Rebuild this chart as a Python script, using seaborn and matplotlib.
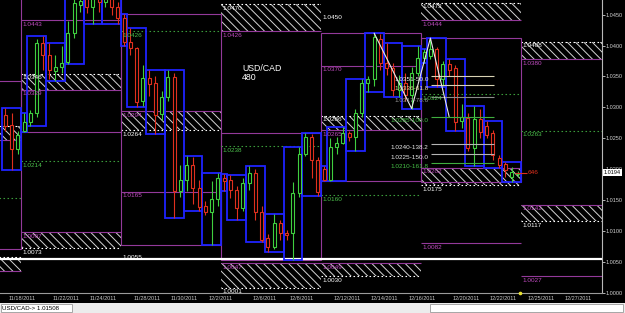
import numpy as np
import pandas as pd
import matplotlib
matplotlib.use("Agg")
import matplotlib.pyplot as plt
from matplotlib.patches import Rectangle
from matplotlib.transforms import blended_transform_factory
import seaborn as sns

# ---------------- data (USD/CAD, 8-hour bars) ----------------
bar_index = list(range(-3, 80))
opens = [1.0288, 1.0272, 1.0232,
         1.0262,
         1.0276, 1.0291, 1.0404, 1.0385, 1.0358, 1.0365, 1.0374, 1.0420, 1.0466,
         1.0490, 1.0462, 1.0480, 1.0470, 1.0478, 1.0462,
         1.0445,
         1.0406, 1.0396, 1.0310, 1.0347, 1.0340, 1.0289, 1.0316, 1.0349, 1.0165,
         1.0182, 1.0207, 1.0169, 1.0140, 1.0130, 1.0152,
         1.0185,
         1.0182, 1.0166, 1.0137, 1.0177, 1.0194, 1.0130, 1.0089, 1.0074, 1.0113,
         1.0097, 1.0097, 1.0161, 1.0224, 1.0252, 1.0215,
         1.0200,
         1.0183, 1.0236, 1.0243, 1.0259, 1.0252, 1.0290, 1.0339, 1.0345, 1.0410,
         1.0372, 1.0363, 1.0328, 1.0340, 1.0320, 1.0355,
         1.0380,
         1.0383, 1.0395, 1.0345, 1.0370, 1.0363, 1.0278, 1.0283, 1.0234, 1.0281,
         1.0270, 1.0258, 1.0218, 1.0208, 1.0188, 1.0192]
highs = [1.0299, 1.0290, 1.0262,
         1.0290,
         1.0295, 1.0410, 1.0415, 1.0404, 1.0385, 1.0400, 1.0440, 1.0478, 1.0490,
         1.0500, 1.0495, 1.0490, 1.0500, 1.0490, 1.0470,
         1.0451,
         1.0428, 1.0398, 1.0368, 1.0360, 1.0350, 1.0326, 1.0361, 1.0355, 1.0207,
         1.0221, 1.0219, 1.0183, 1.0148, 1.0180, 1.0193,
         1.0192,
         1.0190, 1.0172, 1.0185, 1.0205, 1.0200, 1.0140, 1.0095, 1.0128, 1.0118,
         1.0102, 1.0179, 1.0236, 1.0258, 1.0256, 1.0220,
         1.0205,
         1.0250, 1.0252, 1.0268, 1.0262, 1.0298, 1.0346, 1.0350, 1.0420, 1.0418,
         1.0404, 1.0372, 1.0352, 1.0355, 1.0365, 1.0400,
         1.0395,
         1.0412, 1.0398, 1.0375, 1.0378, 1.0368, 1.0305, 1.0290, 1.0302, 1.0298,
         1.0278, 1.0263, 1.0223, 1.0211, 1.0203, 1.0197]
lows = [1.0262, 1.0198, 1.0225,
        1.0260,
        1.0270, 1.0285, 1.0360, 1.0345, 1.0342, 1.0355, 1.0370, 1.0412, 1.0455,
        1.0452, 1.0435, 1.0455, 1.0462, 1.0450, 1.0435,
        1.0400,
        1.0385, 1.0300, 1.0302, 1.0318, 1.0256, 1.0280, 1.0311, 1.0121, 1.0155,
        1.0165, 1.0143, 1.0133, 1.0126, 1.0077, 1.0140,
        1.0165,
        1.0154, 1.0118, 1.0133, 1.0166, 1.0118, 1.0082, 1.0066, 1.0071, 1.0086,
        1.0085, 1.0053, 1.0155, 1.0221, 1.0186, 1.0157,
        1.0181,
        1.0180, 1.0225, 1.0240, 1.0245, 1.0230, 1.0285, 1.0325, 1.0335, 1.0360,
        1.0353, 1.0318, 1.0316, 1.0310, 1.0298, 1.0350,
        1.0372,
        1.0378, 1.0333, 1.0335, 1.0350, 1.0261, 1.0266, 1.0230, 1.0205, 1.0250,
        1.0250, 1.0215, 1.0202, 1.0188, 1.0179, 1.0188]
closes = [1.0270, 1.0232, 1.0255,
          1.0276,
          1.0291, 1.0404, 1.0385, 1.0360, 1.0365, 1.0372, 1.0420, 1.0468, 1.0472,
          1.0462, 1.0480, 1.0470, 1.0478, 1.0462, 1.0445,
          1.0405,
          1.0396, 1.0309, 1.0347, 1.0337, 1.0287, 1.0316, 1.0349, 1.0165, 1.0182,
          1.0207, 1.0169, 1.0139, 1.0131, 1.0152, 1.0185,
          1.0180,
          1.0166, 1.0137, 1.0177, 1.0194, 1.0130, 1.0086, 1.0074, 1.0113, 1.0097,
          1.0093, 1.0161, 1.0224, 1.0252, 1.0215, 1.0163,
          1.0183,
          1.0236, 1.0243, 1.0258, 1.0252, 1.0290, 1.0339, 1.0345, 1.0414, 1.0372,
          1.0363, 1.0328, 1.0340, 1.0320, 1.0355, 1.0380,
          1.0390,
          1.0395, 1.0345, 1.0370, 1.0360, 1.0276, 1.0285, 1.0234, 1.0281, 1.0260,
          1.0255, 1.0223, 1.0207, 1.0199, 1.0195, 1.0194]

# weekly range boxes (week -1 = 11/14, 0 = 11/21, ...)
box_week = [-1, 0, 1, 2, 3, 4]
box_high = [1.0342, 1.0500, 1.0451, 1.0258, 1.0420, 1.0412]
box_low = [1.0071, 1.0260, 1.0077, 1.0053, 1.0180, 1.0179]

# hatched zones
zone_week = [-1, -1, 0, 0, 1, 2, 2, 3, 3, 4, 4, 5, 5]
zone_top = [1.0270, 1.0058, 1.0354, 1.0098, 1.0294, 1.0467, 1.0048, 1.0286, 1.0048,
            1.0469, 1.0202, 1.0406, 1.0142]
zone_bottom = [1.0247, 1.0035, 1.0328, 1.0072, 1.0263, 1.0423, 1.0008, 1.0263, 1.0027,
               1.0441, 1.0174, 1.0378, 1.0116]
zone_dotted = ["top", "top", "top", "bottom", "bottom", "top", "bottom", "top", "bottom",
               "top", "bottom", "top", "bottom"]
zone_label_in = ["", "", "1.0346", "1.0097", "1.0294", "1.0470", "1.0047", "1.0286",
                 "1.0049", "1.0473", "1.0202", "1.0408", "1.0142"]
zone_label_out = ["", "", "1.0329", "1.0073", "1.0264", "1.0426", "1.0001", "1.0265",
                  "1.0030", "1.0444", "1.0175", "1.0380", "1.0117"]

# green dotted pivot lines
pivot_week = [-1, 0, 1, 2, 3, 4, 5]
pivot_price = [1.0153, 1.0213, 1.0423, 1.0237, 1.0158, 1.0321, 1.0262]
pivot_label = ["", "1.0214", "1.0426", "1.0238", "1.0160", "1.0324", "1.0263"]

# purple level lines
level_week = [0, 1, 3, 4, 5]
level_price = [1.0441, 1.0163, 1.0367, 1.0080, 1.0027]
level_label = ["1.0443", "1.0165", "1.0370", "1.0082", "1.0027"]

# other white notes
note_week = [3, 1]
note_price = [1.0446, 1.00562]
note_text = ["1.0450", "1.0055"]
hline_white = 1.00545

# fibonacci levels
fib_price = [1.0351, 1.0336, 1.0317, 1.0285, 1.0240, 1.0225, 1.0210]
fib_ratio = ["50.0", "61.8", "78.6", "100.0", "138.2", "150.0", "161.8"]
fib_line_color = ["#d8d2b4", "#d8d2b4", "#8c8c8c", "#3fae3f", "#b4b4b4", "#b4b4b4", "#3fae3f"]
fib_text_color = ["#f0f0f0", "#e8dca0", "#9a9a9a", "#46c046", "#e8e8e8", "#e8e8e8", "#46c046"]

# zigzag
zz_bar = [56, 62, 65, 68]
zz_price = [1.0420, 1.0298, 1.0412, 1.0285]

# x-axis date labels
date_labels = ["11/18/2011", "11/22/2011", "11/24/2011", "11/28/2011", "11/30/2011",
               "12/2/2011", "12/6/2011", "12/8/2011", "12/12/2011", "12/14/2011",
               "12/16/2011", "12/20/2011", "12/22/2011", "12/25/2011", "12/27/2011"]
date_bar = [-2, 5, 11, 18, 24, 30, 37, 43, 50, 56, 62, 69, 75, 81, 87]

current_price = 1.0194
current_tag = "646"
status_text = "USD/CAD-> 1.01508"

# ---------------- style ----------------
sns.set_theme(style="dark", rc={"axes.facecolor": "black", "figure.facecolor": "black",
                                "axes.grid": False})
plt.rcParams["font.family"] = ["Liberation Sans", "DejaVu Sans"]
plt.rcParams["hatch.linewidth"] = 0.7

GREEN = "#3fcf3f"
RED = "#e0301e"
BLUE = "#1f23ff"
PURPLE = "#93399a"
PURPLE_T = "#c04cc0"
GREEN_T = "#4cc04c"
DOT = (0, (1.4, 2.2))
LFS = 4.6
AFS = 4.0

PX = 1 / 6180.0
Y0 = 1 + (292.7 - 293) * PX
Y1 = 1 + 292.7 * PX
XL0 = -21 / 6.25
XL1 = (602 - 21) / 6.25

fig = plt.figure(figsize=(6.25, 3.13), dpi=100, facecolor="black")
ax = fig.add_axes([0, 20 / 313, 602 / 625, 293 / 313])
ax.set_facecolor("black")
ax.set_xlim(XL0, XL1)
ax.set_ylim(Y0, Y1)


def wx0(w):
    return 16 * w


def wx1(w):
    return 16 * w + 16


# zones
for w, t, b, d, li, lo in zip(zone_week, zone_top, zone_bottom, zone_dotted,
                               zone_label_in, zone_label_out):
    ax.add_patch(Rectangle((wx0(w), b), 16, t - b, fill=False, hatch="\\\\\\\\",
                           edgecolor="#d4d4d4", linewidth=0, zorder=1))
    top_c = "white" if d == "top" else PURPLE
    bot_c = PURPLE if d == "top" else "white"
    ax.hlines(t, wx0(w), wx1(w), colors=top_c, lw=0.8,
              linestyles=DOT if d == "top" else "solid", zorder=2)
    ax.hlines(b, wx0(w), wx1(w), colors=bot_c, lw=0.8,
              linestyles=DOT if d == "bottom" else "solid", zorder=2)
    in_c = "white" if d == "top" else PURPLE_T
    out_c = PURPLE_T if d == "top" else "white"
    if li:
        ax.text(wx0(w) + 0.3, t - 1.5 * PX, li, color=in_c, fontsize=LFS, va="top",
                ha="left", zorder=7)
    if lo:
        ax.text(wx0(w) + 0.3, b - 1.5 * PX, lo, color=out_c, fontsize=LFS, va="top",
                ha="left", zorder=7, clip_on=False)

# weekly boxes
for w, h, l in zip(box_week, box_high, box_low):
    ax.add_patch(Rectangle((wx0(w), l), 16, h - l, fill=False, edgecolor=PURPLE,
                           linewidth=0.8, zorder=2))

# pivots
for w, p, lab in zip(pivot_week, pivot_price, pivot_label):
    ax.hlines(p, wx0(w), wx1(w), colors="#3a9a3a", lw=0.8, linestyles=DOT, zorder=2)
    if lab:
        ax.text(wx0(w) + 0.3, p - 1.5 * PX, lab, color=GREEN_T, fontsize=LFS, va="top",
                ha="left", zorder=8)

# purple levels
for w, p, lab in zip(level_week, level_price, level_label):
    ax.hlines(p, wx0(w), wx1(w), colors=PURPLE, lw=0.8, zorder=2)
    ax.text(wx0(w) + 0.3, p - 1.5 * PX, lab, color=PURPLE_T, fontsize=LFS, va="top",
            ha="left", zorder=7)

# white notes and white line
ax.axhline(hline_white, color="white", lw=1.6, zorder=2)
for w, p, t in zip(note_week, note_price, note_text):
    ax.text(wx0(w) + 0.3, p, t, color="white", fontsize=LFS, va="center", ha="left",
            zorder=7)

# candles
df = pd.DataFrame(dict(bar=bar_index, open=opens, high=highs, low=lows, close=closes))
df["x"] = df["bar"] + 0.5
df["wk"] = df["bar"] // 16
r = df["bar"] % 16
df["dy"] = np.where(r == 0, 0, 1 + (r - 1) // 3)
cols = np.where(df["close"] >= df["open"], GREEN, RED)

for (_, _), g in df.groupby(["wk", "dy"]):
    x0 = g["bar"].min()
    x1 = g["bar"].max() + 1
    lo = g["low"].min()
    hi = g["high"].max()
    ax.add_patch(Rectangle((x0, lo), x1 - x0, hi - lo, fill=False, edgecolor=BLUE,
                           linewidth=1.3, zorder=3))

ax.vlines(df["x"], df["low"], df["high"], colors=cols, lw=0.8, zorder=4)
body_lo = np.minimum(df["open"], df["close"])
body_h = np.maximum((df["close"] - df["open"]).abs(), 0.00006)
ax.bar(df["x"], body_h, bottom=body_lo, width=0.5, facecolor="black", edgecolor=cols,
       linewidth=0.8, zorder=5)

# fibonacci
for p, rt, lc, tc in zip(fib_price, fib_ratio, fib_line_color, fib_text_color):
    ax.hlines(p, 65.6, 75.7, colors=lc, lw=0.8, zorder=6)
    ax.text(65.2, p - 1.0 * PX, f"{p:.4f}-{rt}", color=tc, fontsize=LFS, va="top",
            ha="right", zorder=7)

# zigzag
sns.lineplot(x=np.array(zz_bar) + 0.5, y=zz_price, color="#e8e8e8", lw=0.8, ax=ax,
             sort=False, zorder=6)

# title text
ax.text(35.4, 1 + (292.7 - 73) * PX, "USD/CAD\n480", color="white", fontsize=6.3,
        va="center", ha="left", linespacing=1.05, zorder=7)

# current price marker
ax.hlines(current_price, 79.0, 80.9, colors=RED, lw=0.8, zorder=7)
ax.text(81.1, current_price, current_tag, color=RED, fontsize=LFS, va="center",
        ha="left", zorder=7)

# axes styling
for s in ["top", "left"]:
    ax.spines[s].set_visible(False)
ax.spines["right"].set_color("#b8b8b8")
ax.spines["right"].set_linewidth(0.8)
ax.spines["bottom"].set_color("#9a9a9a")
ax.spines["bottom"].set_linewidth(0.8)
ax.yaxis.tick_right()
yt = np.round(np.arange(1.0, 1.04501, 0.005), 4)
ax.set_yticks(yt)
ax.set_yticklabels([f"{v:.4f}" for v in yt])
ax.tick_params(axis="y", colors="#d0d0d0", labelsize=AFS, length=2, width=0.6, pad=0.6,
               direction="out")
ax.set_xticks(date_bar)
ax.set_xticklabels(date_labels, ha="left")
ax.tick_params(axis="x", colors="#c8c8c8", labelsize=AFS, length=1.5, width=0.6, pad=0.8,
               direction="out")
ax.set_xlabel("")
ax.set_ylabel("")
ax.grid(False)

trans = blended_transform_factory(ax.transAxes, ax.transData)
ax.text(1.003, current_price, f"{current_price:.4f}", transform=trans, color="black",
        fontsize=AFS, va="center", ha="left", clip_on=False, zorder=9,
        bbox=dict(facecolor="white", edgecolor="none", pad=0.6))
ax.plot([79.8], [Y0], "o", color="#e8e030", ms=1.6, clip_on=False, zorder=9)

# status bar
fig.add_artist(Rectangle((0, 0), 1, 10 / 313, transform=fig.transFigure,
                         facecolor="#ececec", edgecolor="none", zorder=0))
fig.add_artist(Rectangle((0.5 / 625, 1 / 313), 71 / 625, 8 / 313, transform=fig.transFigure,
                         facecolor="white", edgecolor="#9a9a9a", linewidth=0.6))
fig.add_artist(Rectangle((430 / 625, 1 / 313), 193 / 625, 8 / 313, transform=fig.transFigure,
                         facecolor="white", edgecolor="#9a9a9a", linewidth=0.6))
fig.text(2 / 625, 5 / 313, status_text, color="black", fontsize=4.4, va="center", ha="left")

fig.savefig("out.png", dpi=100, facecolor=fig.get_facecolor())
